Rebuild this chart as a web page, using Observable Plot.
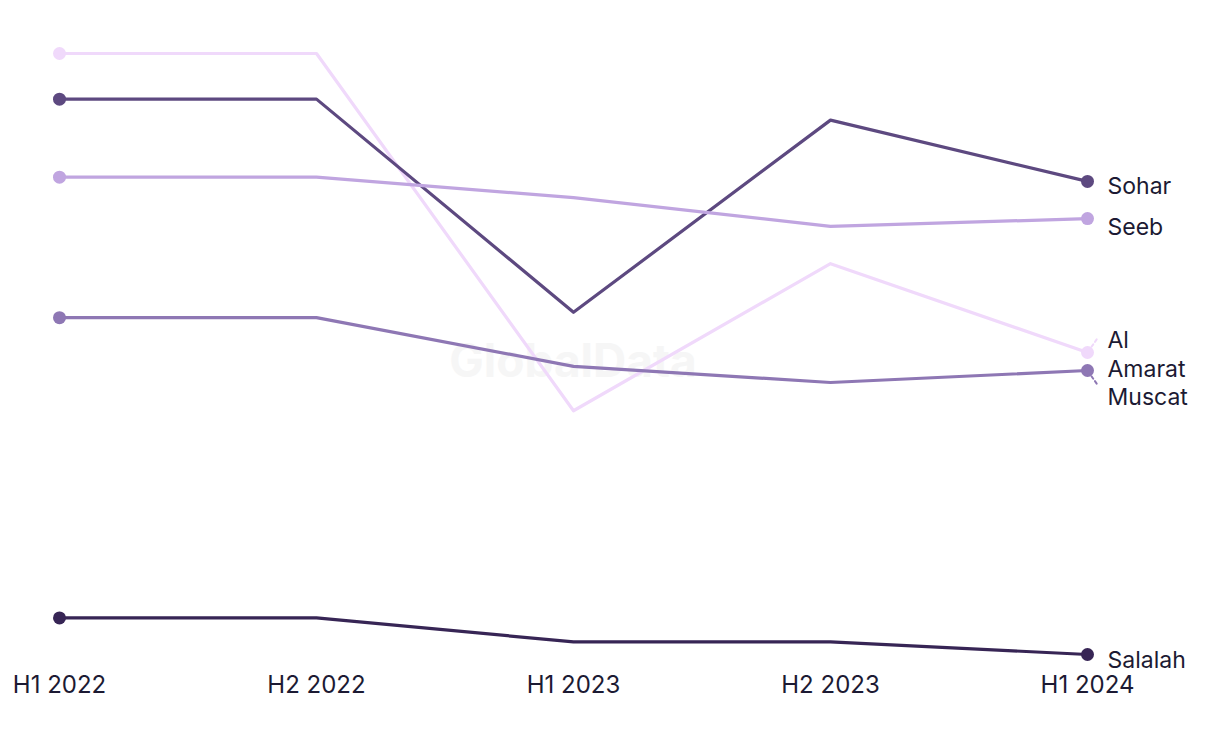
<!DOCTYPE html>
<html>
<head>
<meta charset="utf-8">
<script src="https://cdn.jsdelivr.net/npm/d3@7"></script>
<script src="https://cdn.jsdelivr.net/npm/@observablehq/plot@0.6"></script>
<style>
  body { margin: 0; background: #ffffff; }
  #chart { width: 1220px; height: 744px; }
</style>
</head>
<body>
<div id="chart"></div>
<script>
const periods = ["H1 2022", "H2 2022", "H1 2023", "H2 2023", "H1 2024"];
const seriesNames = ["Al Amarat", "Sohar", "Seeb", "Muscat", "Salalah"];
const alAmarat = [107.8, 107.8, 48.3, 72.8, 58.0];
const sohar    = [100.2, 100.2, 64.7, 96.7, 86.5];
const seeb     = [87.2, 87.2, 83.8, 79.0, 80.3];
const muscat   = [63.8, 63.8, 55.7, 53.0, 55.0];
const salalah  = [13.8, 13.8, 9.8, 9.8, 7.7];
const colors   = ["#f0d9fb", "#5d4980", "#c0a5e0", "#8e77b4", "#372555"];

const values = [alAmarat, sohar, seeb, muscat, salalah];
const data = [];
seriesNames.forEach((s, i) => periods.forEach((p, j) => data.push({series: s, period: p, value: values[i][j]})));
const last = data.filter(d => d.period === periods[periods.length - 1]);
const labelDy = {"Al Amarat": 1, "Sohar": 3, "Seeb": 7, "Muscat": 25, "Salalah": 4};
const leaders = last.filter(d => d.series === "Al Amarat" || d.series === "Muscat");

const font = "Inter, 'Noto Sans', sans-serif";
const chart = Plot.plot({
  width: 1220,
  height: 744,
  marginTop: 53,
  marginBottom: 90,
  marginLeft: 58,
  marginRight: 133,
  style: {fontFamily: font, color: "#1c1a33", background: "#ffffff"},
  x: {type: "point", domain: periods, label: null, padding: 0},
  y: {domain: [7.7, 107.8], axis: null},
  color: {domain: seriesNames, range: colors},
  marks: [
    Plot.text(["GlobalData"], {frameAnchor: "middle", dy: 8, fontSize: 46, fontWeight: 700, fill: "#f6f6f6"}),
    Plot.axisX({tickSize: 0, tickPadding: 21, fontSize: 24, fill: "#1c1a33"}),
    Plot.line(data, {x: "period", y: "value", z: "series", stroke: "series", strokeWidth: 3.2}),
    Plot.dot(data.filter(d => d.period === periods[0] || d.period === periods[periods.length - 1]),
      {x: "period", y: "value", fill: "series", r: 6.5}),
    Plot.vector(leaders, {
      x: "period", y: "value", stroke: "series", strokeWidth: 2, strokeDasharray: "3,3",
      anchor: "start", length: 12,
      rotate: d => d.series === "Al Amarat" ? 35 : 145,
      shape: {draw(ctx, l) { ctx.moveTo(0, -7); ctx.lineTo(0, -7 - l); }}
    }),
    Plot.text(last, {
      x: "period", y: d => d.value, text: d => d.series === "Al Amarat" ? "Al\nAmarat" : d.series,
      textAnchor: "start", dx: 20, fontSize: 23, fill: "#1c1a33", lineHeight: 1.25,
      lineAnchor: "middle", dy: 0
    })
  ]
});
// per-label vertical offsets (styling only)
const labelGroup = [...chart.querySelectorAll('g[aria-label="text"]')].pop();
[...labelGroup.querySelectorAll("text")].forEach((t, i) => {
  const s = last[i].series;
  const tr = t.getAttribute("transform") || "";
  t.setAttribute("transform", tr + ` translate(0,${labelDy[s]})`);
});
document.getElementById("chart").appendChild(chart);
</script>
</body>
</html>
